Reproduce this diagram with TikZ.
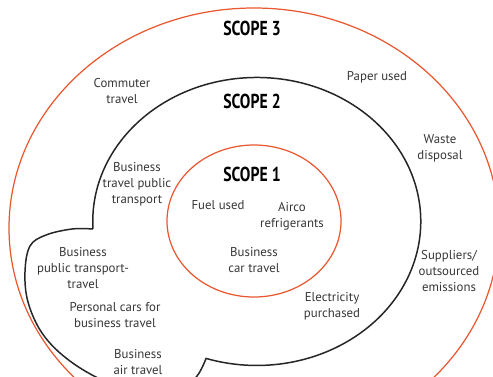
\documentclass[tikz,border=0pt]{standalone}
\usepackage{fontspec}
\setmainfont{PT Sans}
\newfontfamily\scopefont[FakeStretch=0.78]{PT Sans}
\definecolor{scopeorange}{RGB}{233,88,48}
\definecolor{inkgray}{RGB}{55,55,55}

\begin{document}
\begin{tikzpicture}[
    x=0.02cm, y=-0.02cm,
    every node/.style={font=\fontsize{7.3}{9.1}\selectfont},
    source/.style={align=center, text=inkgray, inner sep=0pt},
    scopelabel/.style={font=\scopefont\bfseries\fontsize{11.5}{12}\selectfont, inner sep=0pt},
    ring/.style={draw=scopeorange, line width=0.7pt},
    boundary/.style={draw=black!85, line width=0.85pt}
]
    \useasboundingbox (0,0) rectangle (493,376);
    \fill[white] (0,0) rectangle (493,376);
    \clip (0,0) rectangle (493,376);

    % the three scopes
    \draw[ring] (254,228) ellipse[x radius=245, y radius=220];
    \draw[boundary] (93,229) arc[start angle=177, end angle=468, x radius=164, y radius=144]
        -- plot[smooth, tension=0.6] coordinates {(206,358.5) (197,376) (178,393) (140,393)
            (100,379) (66,358) (42,333) (28,302) (25,272) (30,246) (46,235) (72,229) (93,229)};
    \draw[ring] (254,221) ellipse[x radius=87, y radius=76];

    \node[scopelabel] (scope3) at (252,28) {SCOPE 3};
    \node[scopelabel] (scope2) at (252,101) {SCOPE 2};
    \node[scopelabel] (scope1) at (252,174) {SCOPE 1};

    % scope 1
    \node[source] (fuel) at (218,205) {Fuel used};
    \node[source] (airco) at (292,216) {Airco\\refrigerants};
    \node[source] (cartravel) at (254,260) {Business\\car travel};

    % scope 2
    \node[source] (electricity) at (332,306) {Electricity\\purchased};
    \node[source] (publictransport) at (137,184) {Business\\travel public\\transport};
    \node[source] (publictravel) at (83,268) {Business\\public transport-\\travel};
    \node[source] (personalcars) at (115,315) {Personal cars for\\business travel};
    \node[source] (airtravel) at (138,362) {Business\\air travel};

    % scope 3
    \node[source] (commuter) at (122,91) {Commuter\\travel};
    \node[source] (paper) at (377,77) {Paper used};
    \node[source] (waste) at (440,148) {Waste\\disposal};
    \node[source] (suppliers) at (449,271) {Suppliers/\\outsourced\\emissions};
\end{tikzpicture}
\end{document}
